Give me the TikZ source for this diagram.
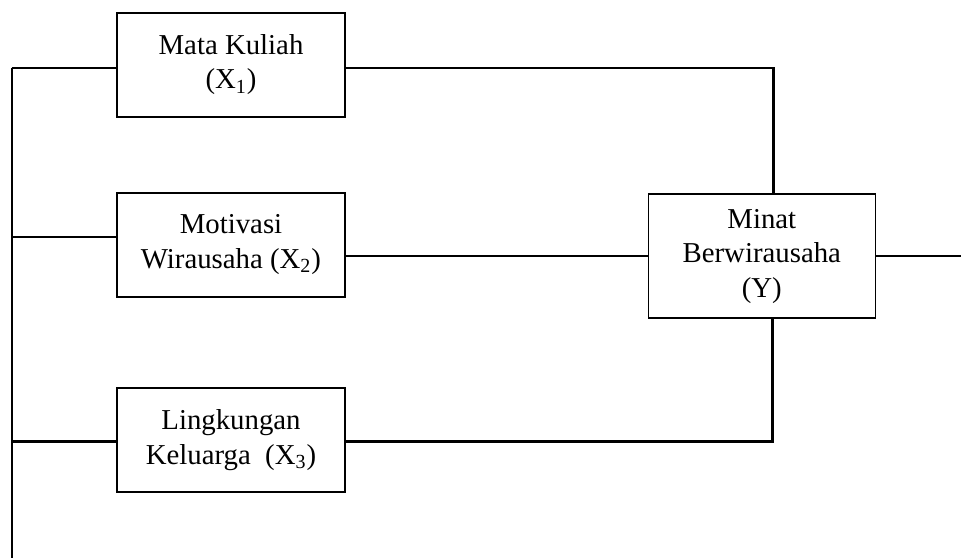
\documentclass[tikz,border=0pt]{standalone}
\usepackage{fontspec}
\setmainfont{Liberation Serif}
\usetikzlibrary{calc}

\tikzset{
  varbox/.style={draw, line width=0.8pt, align=center, inner sep=0pt,
    font=\fontsize{14.4}{17.3}\selectfont},
  link/.style={line width=1.1pt}
}

\begin{document}
\begin{tikzpicture}[x=0.5pt, y=-0.5pt]
        \useasboundingbox (0,0) rectangle (961,558);
        \node[varbox, minimum width=114pt, minimum height=52pt] (mk) at (231,64.7) {Mata Kuliah\\(X\textsubscript{1})};
        \node[varbox, minimum width=114pt, minimum height=52pt] (mw) at (231,244.7) {Motivasi\\Wirausaha (X\textsubscript{2})};
        \node[varbox, minimum width=114pt, minimum height=52pt] (lk) at (231,440) {Lingkungan\\Keluarga\ \ (X\textsubscript{3})};
        \node[varbox, minimum width=113.5pt, minimum height=62pt] (mb) at (761.8,256.2) {Minat\\Berwirausaha\\(Y)};
        % left trunk
        \coordinate (j1) at (11.7,68);
        \coordinate (j2) at (11.7,237);
        \coordinate (j3) at (11.7,441.5);
        \coordinate (jb) at (11.7,558);
        \draw[link] (j1) -- (jb);
        \foreach \j/\b in {j1/mk,j2/mw,j3/lk} \draw[link] (\j) -- (\j -| \b.west);
        % into Y
        \coordinate (c1) at (773.5,68);
        \coordinate (c3) at (772.5,441.5);
        \coordinate (out) at (961,256.2);
        \draw[link] (j1 -| mk.east) -- (c1) -- (c1 |- mb.north);
        \draw[link] (mw.east |- mb.west) -- (mb.west);
        \draw[link] (j3 -| lk.east) -- (c3) -- (c3 |- mb.south);
        \draw[link] (mb.east) -- (out);
    \end{tikzpicture}
\end{document}
